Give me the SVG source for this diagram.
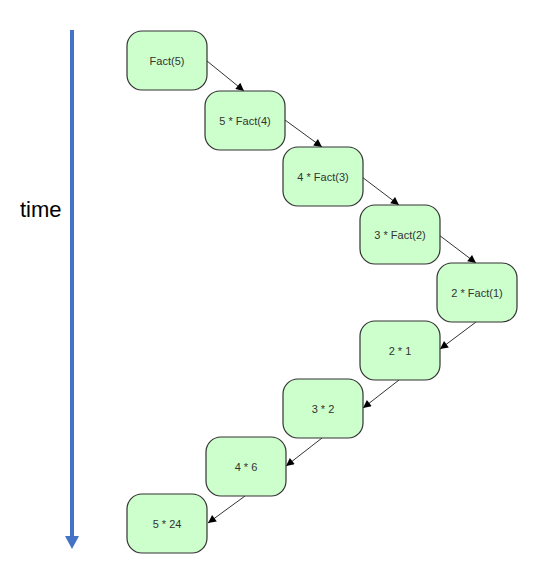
<svg xmlns="http://www.w3.org/2000/svg" width="550" height="585" viewBox="0 0 550 585">
<defs>
<style>
.node rect{fill:#ccffcc;stroke:#333;stroke-width:1.2}
.node text{font-family:"Liberation Sans",Arial,sans-serif;font-size:11px;fill:#333;text-anchor:middle;dominant-baseline:central}
.conn line{stroke:#333;stroke-width:1;marker-end:url(#ah)}
</style>
<marker id="ah" viewBox="0 0 10 10" refX="10" refY="5" markerWidth="10" markerHeight="8" markerUnits="userSpaceOnUse" orient="auto">
<path d="M0,0 L10,5 L0,10 z" fill="#000"/>
</marker>
</defs>
<rect width="550" height="585" fill="#fff"/>
<g id="timeline">
<line x1="72" y1="30" x2="72" y2="538" stroke="#4472c4" stroke-width="4"/>
<path d="M65,536 L79,536 L72,549 z" fill="#4472c4"/>
<text x="20" y="217" font-family="'Liberation Sans',Arial,sans-serif" font-size="22" fill="#000">time</text>
</g>
<g class="conn" id="connectors">
<line x1="207" y1="61" x2="244" y2="91"/>
<line x1="285" y1="120" x2="322" y2="147"/>
<line x1="362" y1="177" x2="399" y2="205"/>
<line x1="439" y1="235" x2="476" y2="263"/>
<line x1="476" y1="322" x2="440" y2="349"/>
<line x1="399" y1="380" x2="363" y2="408"/>
<line x1="322" y1="438" x2="286" y2="466"/>
<line x1="245" y1="496" x2="208" y2="523"/>
</g>
<g class="node" id="n1"><rect x="127" y="31" width="80" height="59" rx="15"/><text x="167" y="60.5">Fact(5)</text></g>
<g class="node" id="n2"><rect x="205" y="91" width="80" height="59" rx="15"/><text x="245" y="120.5">5 * Fact(4)</text></g>
<g class="node" id="n3"><rect x="283" y="147" width="80" height="59" rx="15"/><text x="323" y="176.5">4 * Fact(3)</text></g>
<g class="node" id="n4"><rect x="360" y="205" width="80" height="59" rx="15"/><text x="400" y="234.5">3 * Fact(2)</text></g>
<g class="node" id="n5"><rect x="437" y="263" width="80" height="59" rx="15"/><text x="477" y="292.5">2 * Fact(1)</text></g>
<g class="node" id="n6"><rect x="360" y="321" width="80" height="59" rx="15"/><text x="400" y="350.5">2 * 1</text></g>
<g class="node" id="n7"><rect x="283" y="379" width="80" height="59" rx="15"/><text x="323" y="408.5">3 * 2</text></g>
<g class="node" id="n8"><rect x="206" y="437" width="80" height="59" rx="15"/><text x="246" y="466.5">4 * 6</text></g>
<g class="node" id="n9"><rect x="127" y="494" width="80" height="59" rx="15"/><text x="167" y="523.5">5 * 24</text></g>
</svg>
